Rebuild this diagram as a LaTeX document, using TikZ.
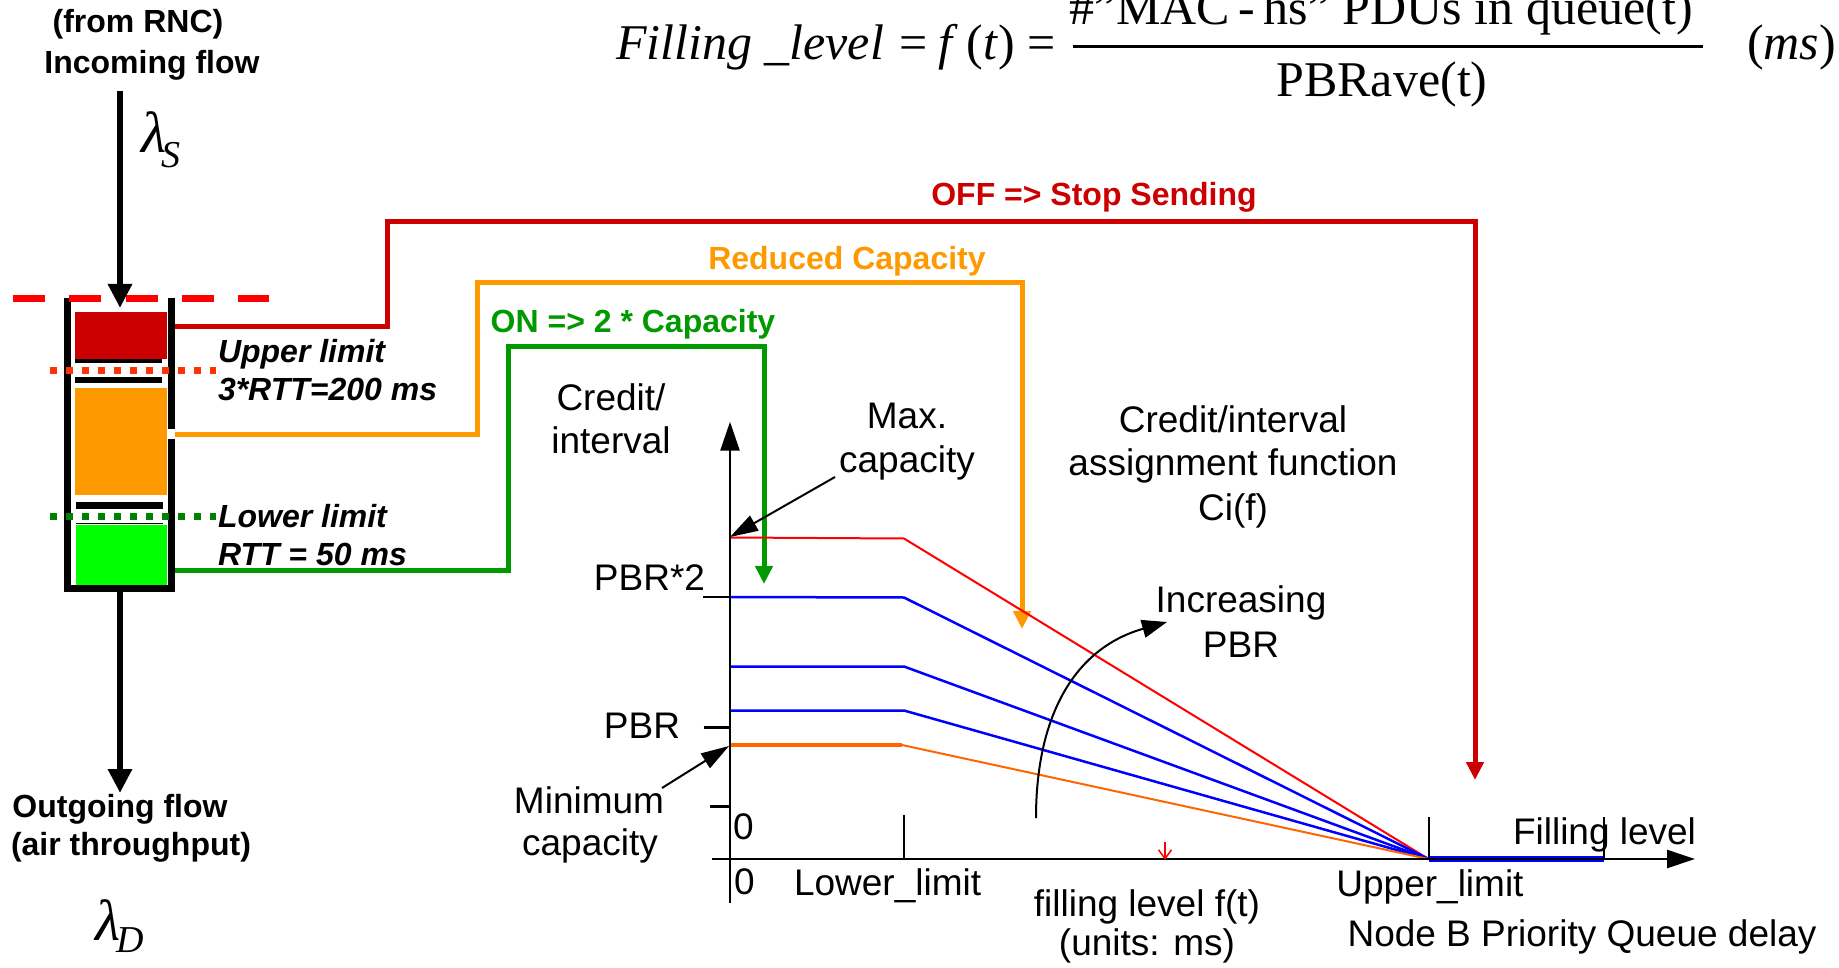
\documentclass[tikz,border=0pt]{standalone}
\usepackage{fontspec}
\setmainfont{Liberation Sans}
\newfontfamily\serif{Liberation Serif}
\usetikzlibrary{arrows.meta}
\definecolor{cred}{HTML}{CC0000}
\definecolor{corange}{HTML}{FF9900}
\definecolor{cgreen}{HTML}{009900}
\definecolor{lgreen}{HTML}{00FF00}
\definecolor{plred}{HTML}{FF0000}
\definecolor{plblue}{HTML}{0000FF}
\definecolor{plorange}{HTML}{FF6600}
\definecolor{dotred}{HTML}{FF3300}
\definecolor{dotgreen}{HTML}{008000}
\begin{document}
\begin{tikzpicture}[x=1pt,y=-1pt,line join=miter,
  txt/.style={font=\fontsize{37}{44}\selectfont, inner sep=0pt, outer sep=0pt},
  btxt/.style={font=\fontsize{32}{38}\selectfont\bfseries, inner sep=0pt, outer sep=0pt},
  bitxt/.style={font=\fontsize{32}{38}\selectfont\bfseries\itshape, inner sep=0pt, outer sep=0pt},
  eqtxt/.style={font=\fontsize{50}{60}\selectfont\serif, inner sep=0pt, outer sep=0pt},
  lam/.style={font=\fontsize{58}{60}\selectfont\serif\itshape, inner sep=0pt, outer sep=0pt},
  flow/.style={line width=5pt},
  flowtip/.style={-{Triangle[length=18pt,width=17pt]}},
  bigflow/.style={line width=6pt,-{Triangle[length=24pt,width=23pt]}},
  thinarrow/.style={line width=2pt,-{Triangle[length=28pt,width=17pt]}},
  axisline/.style={line width=2.5pt},
  plotline/.style={line width=2pt}]
\useasboundingbox (0,0) rectangle (1839,968);

% ---------- formula ----------
\node[eqtxt,anchor=base west] (fl) at (616,60) {\itshape Filling \_level};
\node[eqtxt,anchor=base] (eqa) at (914,60) {=};
\node[eqtxt,anchor=base] (ft) at (977,60) {\textit{f}\,(\textit{t})};
\node[eqtxt,anchor=base] (eqb) at (1042,60) {=};
\draw[line width=3pt] (1073,46.7) -- (1703,46.7);
\node[eqtxt,anchor=base] (num) at (1381,25) {\#”MAC\,-\,hs” PDUs in queue(t)};
\node[eqtxt,anchor=base] (den) at (1382,97) {PBRave(t)};
\node[eqtxt,anchor=base east] (ms) at (1836,60) {(\textit{ms})};

% ---------- queue ----------
\node[btxt,anchor=base] (fromrnc) at (138,33) {(from RNC)};
\node[btxt,anchor=base] (incoming) at (152,74) {Incoming flow};
\node[lam,anchor=base west] (lamS) at (141,153) {λ\kern-5pt\raisebox{-15pt}{\fontsize{38}{40}\selectfont S}};

\fill[cred] (75,312) rectangle (167,359);
\fill[black] (75,359.3) rectangle (162,362.7);
\fill[black] (75,376.7) rectangle (162,383.3);
\fill[corange] (75,388.3) rectangle (167,495);
\fill[black] (76,501.7) rectangle (163,509.3);
\fill[black] (76,522.5) rectangle (163,524.2);
\fill[lgreen] (76,525) rectangle (167,585);

\draw[line width=7pt] (67.5,298) -- (67.5,588.5) -- (171.5,588.5) -- (171.5,439);
\draw[line width=7pt] (171.5,429) -- (171.5,298);

\draw[plred,line width=7pt,dash pattern=on 32pt off 24.3pt] (13,298.3) -- (269,298.3);
\draw[dotred,line width=7pt,dash pattern=on 7pt off 9pt] (50,370) -- (216,370);
\draw[dotgreen,line width=7pt,dash pattern=on 7pt off 9pt] (50,516.7) -- (216,516.7);

\coordinate (inTop) at (120,91);
\coordinate (inTip) at (120,308);
\draw[bigflow] (inTop) -- (inTip);
\coordinate (outTop) at (120,592);
\coordinate (outTip) at (120,793);
\draw[bigflow] (outTop) -- (outTip);

\node[bitxt,anchor=base west] (upper) at (218,362) {Upper limit};
\node[bitxt,anchor=base west] (upperv) at (218,400) {3*RTT=200 ms};
\node[bitxt,anchor=base west] (lower) at (218,527) {Lower limit};
\node[bitxt,anchor=base west] (lowerv) at (218,565) {RTT = 50 ms};

\node[btxt,anchor=base] (outgoing) at (120,817) {Outgoing flow};
\node[btxt,anchor=base] (air) at (131,855) {(air throughput)};
\node[lam,anchor=base west] (lamD) at (95,940) {λ\kern-4pt\raisebox{-12pt}{\fontsize{38}{40}\selectfont D}};

% ---------- flows ----------
\coordinate (redout) at (175,326.5);
\coordinate (redtip) at (1475,780);
\draw[flow,cred,flowtip] (redout) -| (387,222) -| (redtip);
\coordinate (orout) at (175,434);
\coordinate (ortip) at (1022,629);
\draw[flow,corange,flowtip] (orout) -| (477,283) -| (ortip);
\coordinate (grout) at (175,570);
\coordinate (grtip) at (764,584);
\draw[flow,cgreen,flowtip] (grout) -| (508,346) -| (grtip);

\node[btxt,text=cred,anchor=base] (off) at (1094,206) {OFF => Stop Sending};
\node[btxt,text=corange,anchor=base] (reduced) at (847,270) {Reduced Capacity};
\node[btxt,text=cgreen,anchor=base] (on) at (633,333) {ON => 2 * Capacity};

% ---------- chart ----------
\coordinate (ul) at (1428.5,859);
\draw[plotline,plred] (730,537.5) -- (904,538.5) -- (ul);
\draw[plotline,plblue,line width=2.5pt] (730,597) -- (904,597.5) -- (ul);
\draw[plotline,plblue,line width=2.5pt] (730,666.5) -- (904,666.5) -- (ul);
\draw[plotline,plblue,line width=2.5pt] (730,710.5) -- (904,710.5) -- (ul);
\draw[plorange,line width=4.5pt] (730,745) -- (902,745);
\draw[plotline,plorange] (902,745) -- (ul);

\draw[plblue,line width=6pt] (1428.5,859) -- (1604,859);

\coordinate (yb) at (730,903);
\coordinate (yt) at (730,421.7);
\draw[axisline,-{Triangle[length=29pt,width=19pt]}] (yb) -- (yt);
\coordinate (xl) at (712,859);
\coordinate (xr) at (1695,859);
\draw[axisline,-{Triangle[length=28pt,width=18pt]}] (xl) -- (xr);

\draw[axisline] (703,597) -- (730,597);
\draw[axisline] (703.6,727.7) -- (730,727.7);
\draw[axisline] (710,806.7) -- (730,806.7);
\draw[axisline] (904,815) -- (904,859);
\draw[line width=2pt] (1428.5,817) -- (1428.5,859);
\draw[line width=2pt] (1604,817) -- (1604,859);

\coordinate (rs) at (1165,842);
\coordinate (re) at (1165,860);
\draw[plred,line width=1.5pt,-{Straight Barb[length=9pt,width=13pt]}] (rs) -- (re);

% labels
\node[txt,anchor=base] (credit1) at (611,410) {Credit/};
\node[txt,anchor=base] (credit2) at (611,453) {interval};
\node[txt,anchor=base] (max1) at (907,428) {Max.};
\node[txt,anchor=base] (max2) at (907,472) {capacity};
\node[txt,anchor=base] (cf1) at (1233,432) {Credit/interval};
\node[txt,anchor=base] (cf2) at (1233,475) {assignment function};
\node[txt,anchor=base] (cf3) at (1233,520) {Ci(f)};
\node[txt,anchor=base] (inc1) at (1241,612) {Increasing};
\node[txt,anchor=base] (inc2) at (1241,657) {PBR};
\node[txt,anchor=base east] (pbr2) at (705,590) {PBR*2};
\node[txt,anchor=base east] (pbr) at (680,738) {PBR};
\node[txt,anchor=base] (min1) at (589,813) {Minimum};
\node[txt,anchor=base] (min2) at (590,855) {capacity};
\node[txt,anchor=base west] (zeroy) at (733,839) {0};
\node[txt,anchor=base west] (zerox) at (734,894) {0};
\node[txt,anchor=base west] (lowlim) at (794,895) {Lower\_limit};
\node[txt,anchor=base] (fill1) at (1147,916) {filling level f(t)};
\node[txt,anchor=base] (fill2) at (1147,955) {(units: ms)};
\node[txt,anchor=base] (uplim) at (1430,896) {Upper\_limit};
\node[txt,anchor=base west] (filllev) at (1513,844) {Filling level};
\node[txt,anchor=base] (nodeb) at (1582,946) {Node B Priority Queue delay};

% pointer arrows
\coordinate (maxs) at (835,477);
\coordinate (maxt) at (730,537);
\draw[thinarrow] (maxs) -- (maxt);
\coordinate (mins) at (662,788);
\coordinate (mint) at (729,746);
\draw[thinarrow] (mins) -- (mint);
\coordinate (cs) at (1036,818);
\coordinate (ct) at (1167,622);
\draw[line width=2pt,-{Triangle[length=25pt,width=18pt]}] (cs) .. controls (1036,715) and (1075,648) .. (ct);
\end{tikzpicture}
\end{document}
